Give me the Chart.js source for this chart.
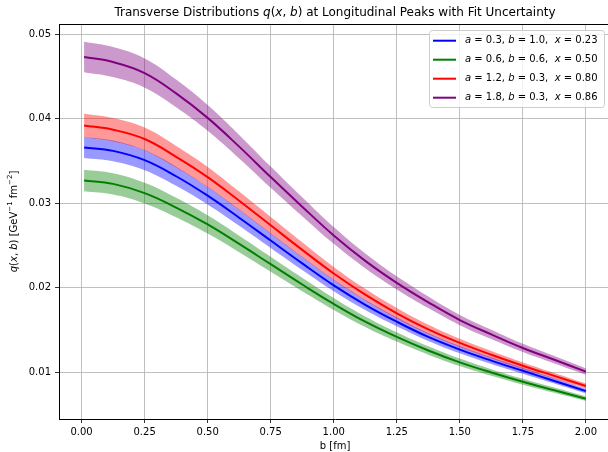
<!DOCTYPE html>
<html>
<head>
<meta charset="utf-8">
<script src="https://cdn.jsdelivr.net/npm/chart.js@4.4.0/dist/chart.umd.min.js"></script>
<style>
  html, body { margin: 0; padding: 0; background: #fff; overflow: hidden; }
  #wrap { width: 614px; height: 452px; }
</style>
</head>
<body>
<div id="wrap"><canvas id="chart" width="614" height="452"></canvas></div>
<script>
// impact parameter b [fm]
const bValues = [0.01, 0.125, 0.25, 0.375, 0.5, 0.625, 0.75, 0.875, 1.0,
                 1.125, 1.25, 1.375, 1.5, 1.625, 1.75, 1.875, 2.0];

// fit parameters per curve (legend)
const paramA = ["0.3", "0.6", "1.2", "1.8"];
const paramB = ["1.0", "0.6", "0.3", "0.3"];
const peakX = ["0.23", "0.50", "0.80", "0.86"];

// q(x,b) read at each b
const blueQ   = [0.0366, 0.0362, 0.0351, 0.0332, 0.0309, 0.0283, 0.0256, 0.0229, 0.0203,
                 0.0180, 0.0160, 0.0142, 0.0127, 0.0114, 0.0102, 0.0090, 0.0078];
const greenQ  = [0.0327, 0.0323, 0.0312, 0.0295, 0.0275, 0.0252, 0.0228, 0.0204, 0.0181,
                 0.0160, 0.0142, 0.0126, 0.0112, 0.0100, 0.0089, 0.0079, 0.0069];
const redQ    = [0.0392, 0.0387, 0.0376, 0.0355, 0.0331, 0.0303, 0.0274, 0.0245, 0.0217,
                 0.0192, 0.0170, 0.0151, 0.0135, 0.0121, 0.0108, 0.0096, 0.0084];
const purpleQ = [0.0473, 0.0467, 0.0454, 0.0430, 0.0401, 0.0367, 0.0331, 0.0296, 0.0262,
                 0.0232, 0.0206, 0.0183, 0.0162, 0.0145, 0.0129, 0.0115, 0.0101];

// half width of the uncertainty band
const blueErr   = [0.00125, 0.00123, 0.00119, 0.00113, 0.00105, 0.00096, 0.00087, 0.00078, 0.00069,
                   0.00061, 0.00054, 0.00048, 0.00043, 0.00039, 0.00035, 0.00031, 0.00027];
const greenErr  = [0.00127, 0.00126, 0.00122, 0.00115, 0.00108, 0.00098, 0.00089, 0.00080, 0.00071,
                   0.00062, 0.00055, 0.00049, 0.00044, 0.00039, 0.00035, 0.00031, 0.00027];
const redErr    = [0.00140, 0.00139, 0.00135, 0.00128, 0.00120, 0.00109, 0.00099, 0.00089, 0.00078,
                   0.00069, 0.00062, 0.00055, 0.00049, 0.00044, 0.00039, 0.00035, 0.00030];
const purpleErr = [0.00180, 0.00178, 0.00173, 0.00163, 0.00152, 0.00139, 0.00125, 0.00112, 0.00099,
                   0.00088, 0.00078, 0.00069, 0.00061, 0.00055, 0.00049, 0.00044, 0.00038];

const xTicks = [0, 0.25, 0.5, 0.75, 1.0, 1.25, 1.5, 1.75, 2.0];
const yTicks = [0.01, 0.02, 0.03, 0.04, 0.05];

const lineColors = ["#0000ff", "#008000", "#ff0000", "#800080"];
const bandColors = ["rgba(0,0,255,0.4)", "rgba(0,128,0,0.4)", "rgba(255,0,0,0.4)", "rgba(128,0,128,0.4)"];

const series = [
  { q: blueQ, err: blueErr },
  { q: greenQ, err: greenErr },
  { q: redQ, err: redErr },
  { q: purpleQ, err: purpleErr }
];

const toPoints = ys => ys.map((y, k) => ({ x: bValues[k], y }));

const datasets = [];
series.forEach((s, i) => {
  const order = 8 - 2 * i;
  datasets.push({
    data: toPoints(s.q.map((v, k) => v - s.err[k])),
    borderColor: "rgba(0,0,0,0)", borderWidth: 0, pointRadius: 0, fill: false, order
  });
  datasets.push({
    data: toPoints(s.q.map((v, k) => v + s.err[k])),
    borderColor: "rgba(0,0,0,0)", borderWidth: 0, pointRadius: 0,
    fill: "-1", backgroundColor: bandColors[i], order
  });
  datasets.push({
    data: toPoints(s.q),
    borderColor: lineColors[i], borderWidth: 2, pointRadius: 0, fill: false, order: order - 1
  });
});

const FONT = '"DejaVu Sans", sans-serif';

function runFont(style, size) {
  if (style === "i") return "italic " + size + "px " + FONT;
  if (style === "s") return (size * 0.7) + "px " + FONT;
  return size + "px " + FONT;
}

function runsWidth(ctx, runs, size) {
  let w = 0;
  runs.forEach(([t, st]) => { ctx.font = runFont(st, size); w += ctx.measureText(t).width; });
  return w;
}

function drawRuns(ctx, runs, x, y, size, align) {
  const w = runsWidth(ctx, runs, size);
  let cx = align === "center" ? x - w / 2 : x;
  ctx.textBaseline = "middle";
  ctx.textAlign = "left";
  runs.forEach(([t, st]) => {
    ctx.font = runFont(st, size);
    ctx.fillText(t, cx, st === "s" ? y - size * 0.4 : y);
    cx += ctx.measureText(t).width;
  });
}

const titleRuns = [
  ["Transverse Distributions ", "n"], ["q", "i"], ["(", "n"], ["x", "i"], [", ", "n"],
  ["b", "i"], [")", "n"], [" at Longitudinal Peaks with Fit Uncertainty", "n"]
];
const yLabelRuns = [
  ["q", "i"], ["(", "n"], ["x", "i"], [", ", "n"], ["b", "i"], [") [GeV", "n"],
  ["\u22121", "s"], [" fm", "n"], ["\u22122", "s"], ["]", "n"]
];

const decorations = {
  id: "decorations",
  afterDraw(chart) {
    const { ctx, chartArea } = chart;
    ctx.save();
    // top and right spines
    ctx.strokeStyle = "#000";
    ctx.lineWidth = 1;
    ctx.beginPath();
    ctx.moveTo(chartArea.left, chartArea.top + 0.5);
    ctx.lineTo(chartArea.right, chartArea.top + 0.5);
    ctx.lineTo(chartArea.right, chartArea.bottom);
    ctx.stroke();

    ctx.fillStyle = "#000";
    drawRuns(ctx, titleRuns, (chartArea.left + chartArea.right) / 2, 13, 12, "center");

    ctx.save();
    ctx.translate(14, (chartArea.top + chartArea.bottom) / 2);
    ctx.rotate(-Math.PI / 2);
    drawRuns(ctx, yLabelRuns, 0, 0, 10, "center");
    ctx.restore();

    // legend
    const lx = 429, ly = 30, lw = 175, lh = 77;
    ctx.beginPath();
    ctx.roundRect(lx + 0.5, ly + 0.5, lw, lh, 3);
    ctx.fillStyle = "rgba(255,255,255,0.8)";
    ctx.fill();
    ctx.strokeStyle = "#cccccc";
    ctx.stroke();
    for (let i = 0; i < 4; i++) {
      const y = 40.7 + i * 19;
      ctx.strokeStyle = lineColors[i];
      ctx.lineWidth = 2;
      ctx.beginPath();
      ctx.moveTo(433, y);
      ctx.lineTo(456, y);
      ctx.stroke();
      ctx.fillStyle = "#000";
      drawRuns(ctx, [
        ["a", "i"], [" = " + paramA[i] + ", ", "n"],
        ["b", "i"], [" = " + paramB[i] + ",  ", "n"],
        ["x", "i"], [" = " + peakX[i], "n"]
      ], 465, y, 10, "left");
    }
    ctx.restore();
  }
};

new Chart(document.getElementById("chart"), {
  type: "line",
  data: { datasets },
  options: {
    responsive: false,
    animation: false,
    layout: { padding: { top: 24, right: 3, left: 0, bottom: 0 } },
    elements: { line: { tension: 0.4 } },
    plugins: { legend: { display: false }, tooltip: { enabled: false } },
    scales: {
      x: {
        type: "linear",
        min: -0.0895,
        max: 2.0995,
        afterBuildTicks: s => { s.ticks = xTicks.map(v => ({ value: v })); },
        afterFit: s => { s.height = 33; },
        ticks: {
          color: "#000", padding: 3, maxRotation: 0,
          font: { family: FONT, size: 10 },
          callback: v => v.toFixed(2)
        },
        grid: { color: "#b0b0b0", lineWidth: 0.8, tickColor: "#000", tickLength: 4, tickWidth: 0.8 },
        border: { color: "#000", width: 1 },
        title: { display: true, text: "b [fm]", color: "#000", font: { family: FONT, size: 10 }, padding: 0 }
      },
      y: {
        min: 0.0045,
        max: 0.0512,
        afterBuildTicks: s => { s.ticks = yTicks.map(v => ({ value: v })); },
        afterFit: s => { s.width = 59; },
        ticks: {
          color: "#000", padding: 4,
          font: { family: FONT, size: 10 },
          callback: v => v.toFixed(2)
        },
        grid: { color: "#b0b0b0", lineWidth: 0.8, tickColor: "#000", tickLength: 4, tickWidth: 0.8 },
        border: { color: "#000", width: 1 }
      }
    }
  },
  plugins: [decorations]
});
</script>
</body>
</html>
